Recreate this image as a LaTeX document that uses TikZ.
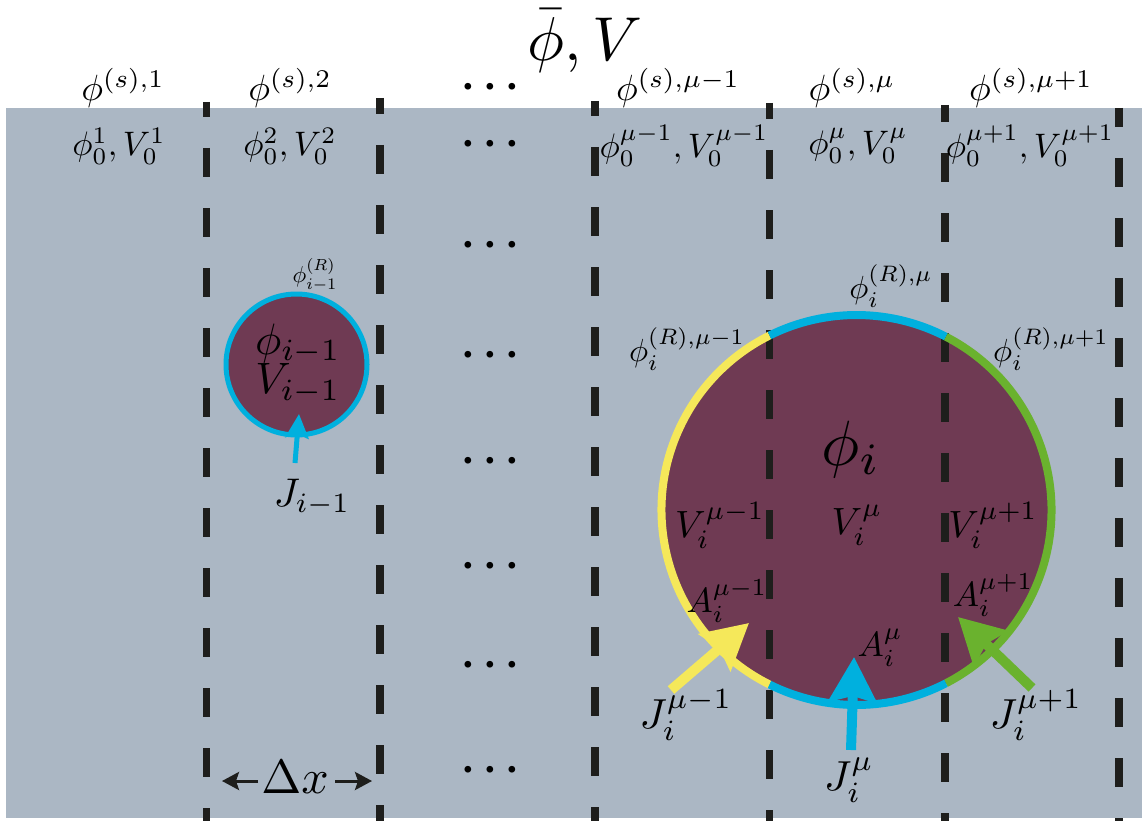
\documentclass[tikz,border=0pt]{standalone}
\usetikzlibrary{arrows.meta}
\definecolor{bggray}{HTML}{ABB7C4}
\definecolor{maroonfill}{HTML}{6F3A53}
\definecolor{cyanarc}{HTML}{00B0DE}
\definecolor{yellowarc}{HTML}{F5E85A}
\definecolor{greenarc}{HTML}{6AB22E}
\definecolor{dashcol}{HTML}{1E1E1C}
\begin{document}
\begin{tikzpicture}[x=1pt,y=-1pt,
  lbl/.style={inner sep=0pt, text=black, font=\fontsize{10}{12}\selectfont, scale=#1/10},
  dotsnode/.style={inner sep=0pt, anchor=base, font=\fontsize{10}{12}\selectfont\boldmath, scale=4.3},
  divline/.style={draw=dashcol, line width=7.5pt, dash pattern=on 29pt off 31pt},
  bigarrow/.style={line width=10pt, -{Stealth[length=45pt,width=48pt,inset=6pt]}},
  smallarrow/.style={line width=5pt, -{Stealth[length=24pt,width=23pt,inset=4pt]}},
  dxarrow/.style={line width=3pt, draw=dashcol, -{Stealth[length=17pt,width=18pt,inset=3pt]}},
  rimarc/.style={line width=8pt}]
\useasboundingbox (0,0) rectangle (1142,821);
\fill[bggray] (6,108) rectangle (1142,818);

% circles (fills)
\coordinate (C) at (856.5,510);
\coordinate (c) at (296.5,364.5);
\fill[maroonfill] (c) circle[radius=70.5];
\fill[maroonfill] (C) circle[radius=195];

% dashed cell boundaries
\draw[divline, dash phase=14pt] (206.5,102) -- (206.5,821);
\draw[divline, dash phase=13pt] (380,98) -- (380,821);
\draw[divline, dash phase=14pt] (595,101) -- (595,821);
\draw[divline, dash phase=13pt] (769.5,103) -- (769.5,821);
\draw[divline, dash phase=12pt] (945,105) -- (945,821);
\draw[divline, dash phase=10pt] (1119,108) -- (1119,821);

% rims
\draw[cyanarc, line width=5pt] (c) circle[radius=70.5];
\draw[rimarc, yellowarc] ([shift={(116.5:195)}]C) arc[start angle=116.5, end angle=243.5, radius=195];
\draw[rimarc, cyanarc] ([shift={(243.5:195)}]C) arc[start angle=243.5, end angle=297.3, radius=195];
\draw[rimarc, greenarc] ([shift={(297.3:195)}]C) arc[start angle=297.3, end angle=422.7, radius=195];
\draw[rimarc, cyanarc] ([shift={(62.7:195)}]C) arc[start angle=62.7, end angle=116.5, radius=195];

% title
\node[lbl=62] (title) at (585,41) {$\bar\phi, V$};

% top labels
\node[lbl=36.5] (s1) at (123,88) {$\phi^{(s),1}$};
\node[lbl=36.5] (s2) at (290,88) {$\phi^{(s),2}$};
\node[lbl=36.5] (s3) at (678,88) {$\phi^{(s),\mu-1}$};
\node[lbl=36.5] (s4) at (852,88) {$\phi^{(s),\mu}$};
\node[lbl=36.5] (s5) at (1031,88) {$\phi^{(s),\mu+1}$};

\node[lbl=34] (b1) at (119,146) {$\phi_0^1, V_0^1$};
\node[lbl=34] (b2) at (290,146) {$\phi_0^2, V_0^2$};
\node[lbl=34] (b3) at (684,146) {$\phi_0^{\mu-1}, V_0^{\mu-1}$};
\node[lbl=34] (b4) at (858,146) {$\phi_0^{\mu}, V_0^{\mu}$};
\node[lbl=34] (b5) at (1030,146) {$\phi_0^{\mu+1}, V_0^{\mu+1}$};

% dots column
\node[dotsnode] (d0) at (490,98) {$\cdots$};
\node[dotsnode] (d1) at (490,155) {$\cdots$};
\node[dotsnode] (d2) at (490,255) {$\cdots$};
\node[dotsnode] (d3) at (490,365) {$\cdots$};
\node[dotsnode] (d4) at (490,471) {$\cdots$};
\node[dotsnode] (d5) at (490,576) {$\cdots$};
\node[dotsnode] (d6) at (490,675) {$\cdots$};
\node[dotsnode] (d7) at (490,780) {$\cdots$};

% small particle
\node[lbl=23] (rs) at (315,275) {$\phi_{i-1}^{(R)}$};
\node[lbl=44] (ps) at (298,344) {$\phi_{i-1}$};
\node[lbl=44] (vs) at (298,384) {$V_{i-1}$};
\node[lbl=40] (js) at (312,497) {$J_{i-1}$};
\coordinate (jst) at (295,463);
\coordinate (jsh) at (299,414);
\draw[smallarrow, cyanarc] (jst) -- (jsh);

% big particle
\node[lbl=64] (pb) at (851,449) {$\phi_i$};
\node[lbl=32] (r2) at (891,286) {$\phi_i^{(R),\mu}$};
\node[lbl=32] (r1) at (687,349) {$\phi_i^{(R),\mu-1}$};
\node[lbl=32] (r3) at (1051,349) {$\phi_i^{(R),\mu+1}$};
\node[lbl=38] (v1) at (720,525) {$V_i^{\mu-1}$};
\node[lbl=38] (v2) at (857,525) {$V_i^{\mu}$};
\node[lbl=38] (v3) at (993,525) {$V_i^{\mu+1}$};
\node[lbl=35] (a1) at (727,601) {$A_i^{\mu-1}$};
\node[lbl=35] (a2) at (880,648) {$A_i^{\mu}$};
\node[lbl=35] (a3) at (993,595) {$A_i^{\mu+1}$};
\node[lbl=42] (j1) at (686,715) {$J_i^{\mu-1}$};
\node[lbl=42] (j2) at (849,780) {$J_i^{\mu}$};
\node[lbl=42] (j3) at (1036,715) {$J_i^{\mu+1}$};

\coordinate (y0) at (671,690); \coordinate (y1) at (749,623);
\coordinate (u0) at (851,750); \coordinate (u1) at (854,657);
\coordinate (g0) at (1032,688); \coordinate (g1) at (958,617);
\draw[bigarrow, yellowarc] (y0) -- (y1);
\draw[bigarrow, cyanarc] (u0) -- (u1);
\draw[bigarrow, greenarc] (g0) -- (g1);

% Delta x
\node[lbl=48] (dx) at (295,777) {$\Delta x$};
\coordinate (dxl) at (222,781);
\coordinate (dxr) at (372,781);
\coordinate (dxl0) at (258,781);
\coordinate (dxr0) at (335,781);
\draw[dxarrow] (dxl0) -- (dxl);
\draw[dxarrow] (dxr0) -- (dxr);
\end{tikzpicture}
\end{document}
